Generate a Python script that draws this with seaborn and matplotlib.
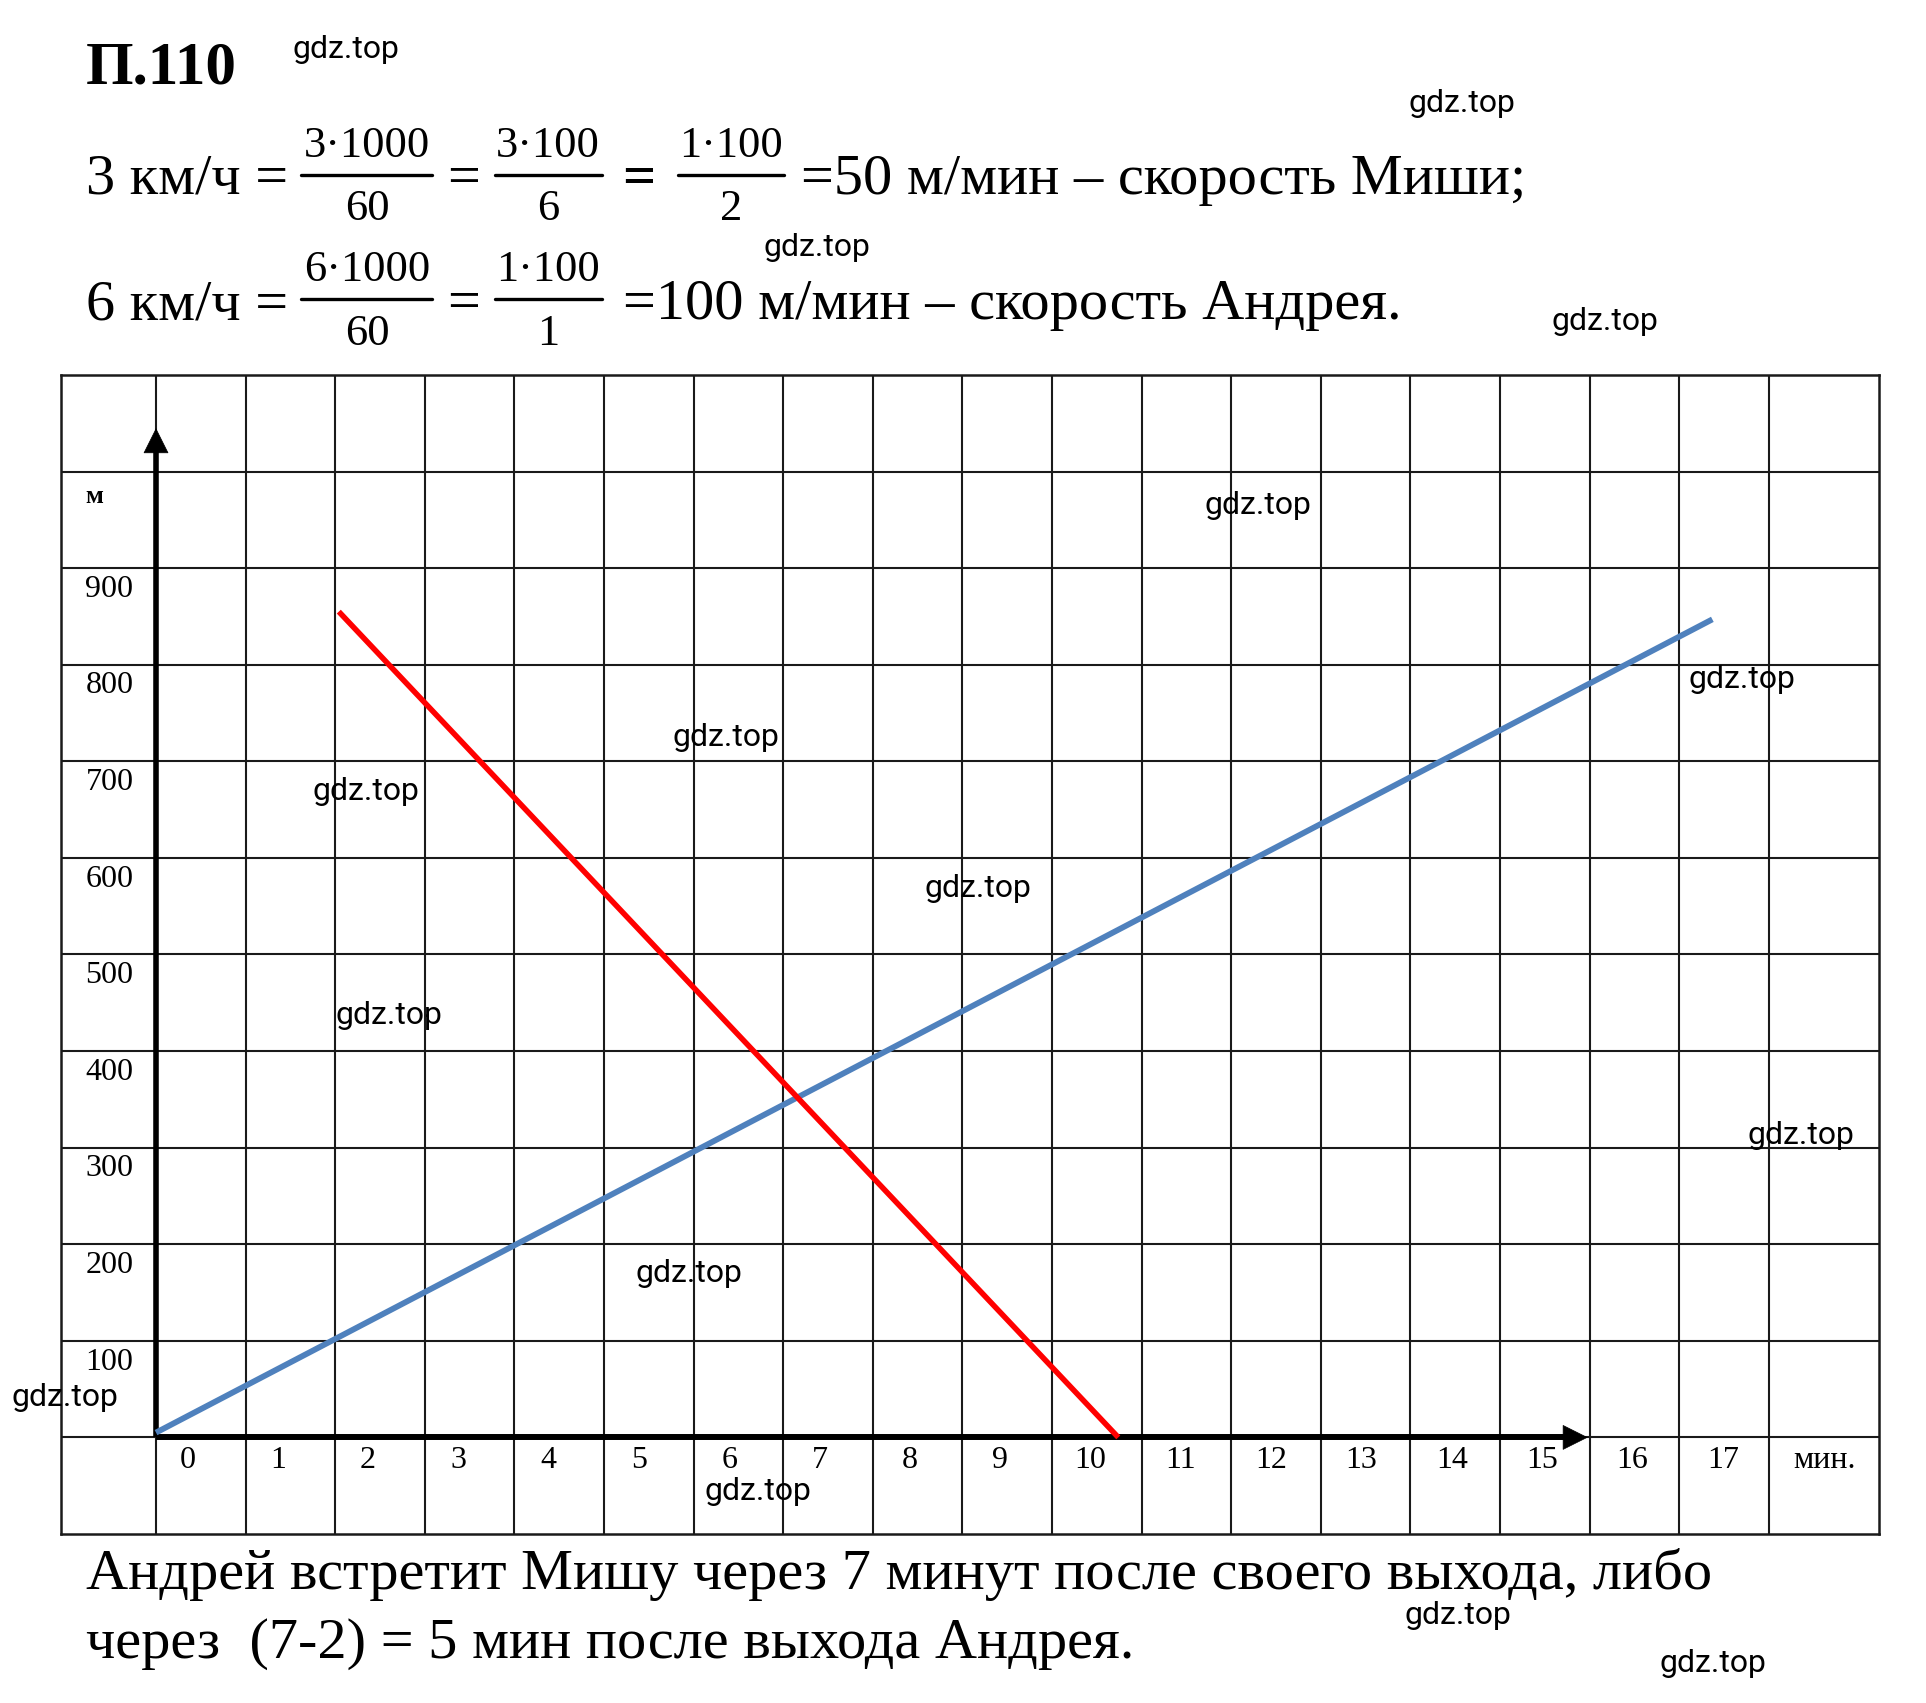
import matplotlib
matplotlib.use("Agg")
import matplotlib.pyplot as plt
from matplotlib.lines import Line2D
import seaborn as sns
import pandas as pd

# ---- data ----
misha_time = [0, 17.37]          # minutes
misha_dist = [5, 847]            # metres
andrey_time = [2.04, 10.74]
andrey_dist = [855, 0]
y_labels = [100, 200, 300, 400, 500, 600, 700, 800, 900]
x_labels = list(range(0, 18))
x_unit = "мин."
y_unit = "м"

title = "П.110"
line1_left = "3 км/ч ="
line1_fracs = [("3·1000", "60"), ("3·100", "6"), ("1·100", "2")]
line1_right = "=50 м/мин – скорость Миши;"
line2_left = "6 км/ч ="
line2_fracs = [("6·1000", "60"), ("1·100", "1")]
line2_right = "=100 м/мин – скорость Андрея."
answer1 = "Андрей встретит Мишу через 7 минут после своего выхода, либо"
answer2 = "через  (7-2) = 5 мин после выхода Андрея."
watermark = "gdz.top"

sns.set_style("white")
plt.rcParams['font.family'] = ['Liberation Serif', 'DejaVu Serif']
plt.rcParams['text.color'] = 'black'

W, H = 1926, 1703
fig = plt.figure(figsize=(W / 100, H / 100), dpi=100)

def fx(px):
    return px / W

def fy(py):
    return 1 - py / H

# ---- grid axes ----
ax = fig.add_axes([fx(61.4), fy(1534), fx(1879) - fx(61.4), fy(375) - fy(1534)])
ax.set_xlim(-1.056, 19.23)
ax.set_ylim(-100, 1100)
ax.set_xticks(range(0, 19))
ax.set_yticks(range(0, 1001, 100))
ax.grid(True, color='#1a1a1a', lw=1.5)
ax.tick_params(length=0, labelbottom=False, labelleft=False)
for s in ax.spines.values():
    s.set_visible(True)
    s.set_color('#1a1a1a')
    s.set_linewidth(1.8)

# axes arrows
ax.plot([0, 0], [0, 1022], color='black', lw=4, solid_capstyle='butt', zorder=3)
ax.plot([0, 15.72], [0, 0], color='black', lw=4.3, solid_capstyle='butt', zorder=3)
head = dict(arrowstyle='-|>,head_length=0.4,head_width=0.2', mutation_scale=43,
            lw=0.5, color='black', shrinkA=0, shrinkB=0)
ax.annotate('', xy=(0, 1045), xytext=(0, 950), arrowprops=head, zorder=3)
ax.annotate('', xy=(15.98, 0), xytext=(15.0, 0), arrowprops=head, zorder=3)

# lines
df_m = pd.DataFrame({"t": misha_time, "d": misha_dist})
df_a = pd.DataFrame({"t": andrey_time, "d": andrey_dist})
sns.lineplot(data=df_m, x="t", y="d", ax=ax, color='#4F81BD', lw=4.2,
             solid_capstyle='butt', zorder=4)
sns.lineplot(data=df_a, x="t", y="d", ax=ax, color='#FF0000', lw=4.0,
             solid_capstyle='butt', zorder=4)
ax.set_xlabel("")
ax.set_ylabel("")

# tick labels inside cells
for v in y_labels:
    ax.text(-0.52, v - 22, str(v), fontsize=23, ha='center', va='center', zorder=5)
ax.text(-0.79, 974, y_unit, fontsize=19, fontweight='bold', ha='left', va='center')
for i in x_labels:
    ax.text(i + 0.35 + 0.008 * i, -24, str(i), fontsize=23, ha='center', va='center')
ax.text(18.62, -24, x_unit, fontsize=23, ha='center', va='center')

# ---- texts above ----
BIG = 42
FR = 32
fig.text(fx(86), fy(83), title, fontsize=44, fontweight='bold', va='baseline', ha='left')

def fraction(cx, x0, x1, num, den, num_base, bar_y, den_base):
    fig.text(fx(cx), fy(num_base), num, fontsize=FR, ha='center', va='baseline')
    fig.text(fx(cx), fy(den_base), den, fontsize=FR, ha='center', va='baseline')
    fig.add_artist(Line2D([fx(x0), fx(x1)], [fy(bar_y), fy(bar_y)], color='black', lw=2.4))

# line 1
fig.text(fx(86), fy(194), line1_left, fontsize=BIG, va='baseline', ha='left')
geo1 = [(367, 301, 432), (548, 495, 602), (731, 678, 784)]
for (num, den), (cx, x0, x1) in zip(line1_fracs, geo1):
    fraction(cx, x0, x1, num, den, 157, 174.5, 220)
fig.text(fx(464), fy(194), "=", fontsize=BIG, va='baseline', ha='center')
fig.text(fx(639), fy(194), "=", fontsize=BIG, va='baseline', ha='center', fontweight='bold')
fig.text(fx(801), fy(194), line1_right, fontsize=BIG, va='baseline', ha='left')

# line 2
fig.text(fx(86), fy(319), line2_left, fontsize=BIG, va='baseline', ha='left')
geo2 = [(367, 301, 432), (548, 495, 602)]
for (num, den), (cx, x0, x1) in zip(line2_fracs, geo2):
    fraction(cx, x0, x1, num, den, 281, 298.5, 345)
fig.text(fx(464), fy(319), "=", fontsize=BIG, va='baseline', ha='center')
fig.text(fx(623), fy(319), line2_right, fontsize=BIG, va='baseline', ha='left')

# answer
fig.text(fx(86), fy(1589), answer1, fontsize=BIG, va='baseline', ha='left')
fig.text(fx(86), fy(1658), answer2, fontsize=BIG, va='baseline', ha='left')

# watermarks
wm_pos = [(346, 49), (1462, 104), (817, 248), (1605, 321), (1258, 505), (1742, 680),
          (726, 737), (366, 792), (978, 888), (389, 1016), (1801, 1136), (689, 1273),
          (65, 1397), (758, 1492), (1458, 1616), (1713, 1664)]
for (x, y) in wm_pos:
    fig.text(fx(x), fy(y), watermark, fontsize=23, family='Roboto', color='black',
             ha='center', va='center', zorder=10)

fig.savefig("out.png", dpi=100)
